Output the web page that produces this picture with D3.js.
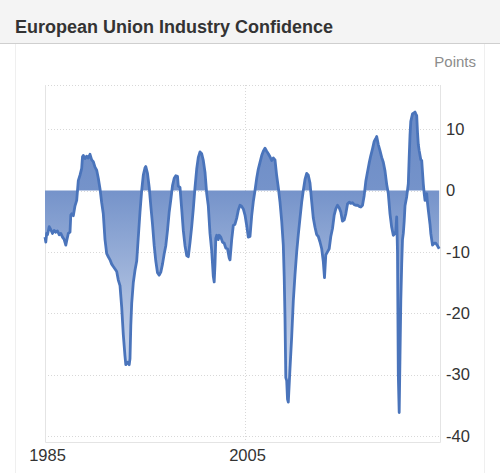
<!DOCTYPE html>
<html>
<head>
<meta charset="utf-8">
<script src="https://cdn.jsdelivr.net/npm/d3@7"></script>
<style>
  html, body { margin: 0; padding: 0; background: #fff; }
  svg { display: block; font-family: "Liberation Sans", Arial, Helvetica, sans-serif; }
</style>
</head>
<body>
<svg id="chart" width="500" height="473"></svg>
<script>
// ---- data ----
const title = "European Union Industry Confidence";
const unitLabel = "Points";
const yTicks = [10, 0, -10, -20, -30, -40];
const xTicks = [1985, 2005];

const dates = [
  1985.00,1985.08,1985.17,1985.25,1985.42,1985.58,1985.75,1985.92,
  1986.08,1986.25,1986.42,1986.58,1986.75,1986.92,
  1987.08,1987.17,1987.33,1987.50,1987.58,1987.67,1987.83,
  1988.00,1988.17,1988.33,1988.50,1988.67,1988.75,1988.83,
  1989.00,1989.17,1989.33,1989.50,1989.67,1989.83,
  1990.00,1990.17,1990.33,1990.50,1990.67,1990.83,
  1991.00,1991.17,1991.33,1991.50,1991.67,1991.83,
  1992.00,1992.17,1992.33,1992.50,1992.67,1992.83,
  1993.00,1993.08,1993.25,1993.42,1993.50,1993.58,1993.67,1993.83,
  1994.00,1994.17,1994.33,1994.50,1994.67,1994.83,
  1995.00,1995.08,1995.25,1995.42,1995.58,1995.75,1995.92,
  1996.08,1996.25,1996.42,1996.58,1996.75,1996.92,
  1997.08,1997.25,1997.42,1997.58,1997.75,1997.92,
  1998.08,1998.25,1998.33,1998.50,1998.67,1998.83,
  1999.00,1999.17,1999.33,1999.50,1999.67,1999.83,
  2000.00,2000.17,2000.33,2000.50,2000.67,2000.83,
  2001.00,2001.17,2001.33,2001.50,2001.67,2001.83,2001.92,
  2002.00,2002.08,2002.17,2002.33,2002.42,2002.58,2002.75,2002.92,
  2003.08,2003.25,2003.42,2003.50,2003.67,2003.83,
  2004.00,2004.17,2004.33,2004.50,2004.67,2004.83,
  2005.00,2005.17,2005.33,2005.50,2005.67,2005.83,
  2006.00,2006.17,2006.33,2006.50,2006.67,2006.83,
  2007.00,2007.17,2007.33,2007.50,2007.67,2007.83,
  2008.00,2008.17,2008.33,2008.50,2008.67,2008.83,2008.92,
  2009.00,2009.08,2009.17,2009.25,2009.33,2009.50,2009.67,2009.83,
  2010.00,2010.17,2010.33,2010.50,2010.67,2010.83,
  2011.00,2011.17,2011.33,2011.50,2011.67,2011.83,
  2012.00,2012.17,2012.33,2012.50,2012.67,2012.83,2012.95,
  2013.08,2013.25,2013.42,2013.58,2013.75,2013.92,
  2014.08,2014.25,2014.42,2014.58,2014.75,2014.92,
  2015.08,2015.25,2015.42,2015.58,2015.75,2015.92,
  2016.08,2016.25,2016.42,2016.58,2016.75,2016.92,
  2017.08,2017.25,2017.42,2017.58,2017.75,2017.92,
  2018.08,2018.17,2018.33,2018.50,2018.67,2018.83,
  2019.00,2019.17,2019.33,2019.50,2019.67,2019.83,
  2020.00,2020.08,2020.17,2020.25,2020.33,2020.42,2020.50,2020.58,2020.67,2020.75,2020.83,2020.92,
  2021.00,2021.17,2021.33,2021.42,2021.50,2021.58,2021.75,2021.92,
  2022.00,2022.08,2022.17,2022.25,2022.33,2022.42,2022.58,2022.67,2022.83,2022.92,
  2023.00,2023.08,2023.17,2023.25,2023.33,2023.50,2023.58,2023.75,2023.92,
  2024.08,2024.25,2024.42
];
const values = [
  -7.6,-8.4,-7.0,-7.2,-5.9,-6.4,-7.0,-6.5,
  -6.8,-6.6,-7.2,-7.0,-7.6,-8.0,
  -8.9,-8.2,-7.0,-6.8,-4.0,-3.8,-4.1,
  -2.5,-1.6,1.6,2.5,3.6,5.5,5.7,
  5.2,5.6,5.3,5.9,5.0,4.7,
  3.8,3.3,2.0,0.3,-2.0,-3.8,
  -8.0,-10.3,-10.8,-11.3,-12.0,-12.4,
  -12.8,-13.2,-14.6,-15.5,-19.0,-23.5,
  -27.0,-28.4,-28.0,-28.4,-27.4,-22.0,-18.4,-15.0,
  -13.0,-11.5,-7.6,-3.5,0.0,2.5,
  3.7,3.9,2.8,0.5,-2.5,-5.5,-9.0,
  -11.5,-13.4,-13.8,-13.3,-12.0,-10.3,
  -9.0,-6.5,-3.5,-1.5,0.8,2.0,
  2.4,2.3,0.7,0.5,-3.0,-6.5,
  -9.0,-10.6,-10.8,-8.5,-5.9,-3.0,
  0.5,3.5,5.4,6.3,6.0,4.9,
  3.0,-0.5,-2.5,-7.0,-9.8,-14.0,-14.9,
  -12.0,-7.8,-7.3,-8.0,-7.3,-7.6,-8.4,-8.6,
  -9.4,-9.5,-11.0,-11.3,-8.0,-5.7,
  -5.5,-4.5,-3.2,-2.4,-2.6,-3.0,
  -4.0,-5.7,-7.6,-7.5,-4.1,-1.8,
  0.0,2.0,3.5,4.6,5.7,6.4,
  6.9,6.4,6.0,5.5,4.9,5.3,
  5.0,2.4,0.5,-1.9,-5.0,-8.9,-14.0,
  -20.8,-30.5,-31.0,-34.0,-34.5,-29.0,-23.8,-18.0,
  -13.7,-10.0,-7.2,-4.5,-1.9,0.0,
  1.8,2.8,2.5,1.2,-1.8,-4.5,
  -6.0,-7.2,-7.5,-8.4,-9.5,-11.6,-14.2,
  -10.5,-10.0,-9.5,-7.5,-6.2,-4.0,
  -3.0,-2.4,-2.8,-3.5,-5.0,-4.8,
  -3.8,-2.2,-1.9,-2.1,-2.0,-2.3,
  -2.4,-2.4,-2.6,-2.7,-2.4,-0.8,
  1.5,3.0,4.5,5.7,6.8,8.0,
  8.5,8.8,7.5,6.5,5.4,4.6,
  3.2,1.0,-0.5,-3.8,-6.0,-7.3,
  -7.0,-6.6,-4.3,-10.0,-30.0,-36.2,-27.0,-18.0,-12.0,-8.0,-7.0,-5.0,
  -2.5,-1.0,1.1,5.5,9.0,11.3,12.5,12.7,
  12.8,12.5,12.2,9.5,7.5,6.5,5.0,4.9,1.1,-0.5,
  -1.6,-1.5,-0.5,-2.0,-3.2,-5.5,-7.0,-8.9,-8.6,
  -8.6,-9.0,-9.5
];

// ---- drawing ----
const svg = d3.select("#chart");
const W = 500, H = 473;
const plot = { left: 45, right: 440, top: 85, bottom: 442 };

const x = d3.scaleLinear().domain([1985, 2024.5]).range([plot.left, plot.right]);
const y = d3.scaleLinear().domain([-41, 17.2]).range([plot.bottom, plot.top]);

// title bar
svg.append("rect").attr("x", 0).attr("y", 0).attr("width", W).attr("height", 43)
  .attr("fill", "#f4f4f4");
svg.append("line").attr("x1", 0).attr("x2", W).attr("y1", 43.5).attr("y2", 43.5)
  .attr("stroke", "#cfcfcf").attr("stroke-width", 1);
svg.append("text").attr("x", 15).attr("y", 32.5)
  .attr("font-size", 18).attr("font-weight", "bold").attr("fill", "#333")
  .text(title);

// card edges
[15.5, 484.5].forEach(cx => {
  svg.append("line").attr("x1", cx).attr("x2", cx).attr("y1", 44).attr("y2", H)
    .attr("stroke", "#efefef").attr("stroke-width", 1);
});

svg.append("text").attr("x", 476).attr("y", 67).attr("text-anchor", "end")
  .attr("font-size", 15).attr("fill", "#8c8c8c").text(unitLabel);

// gridlines
const grid = svg.append("g");
grid.selectAll("line.h").data(yTicks.concat([17.2])).join("line")
  .attr("x1", plot.left).attr("x2", plot.right)
  .attr("y1", d => Math.round(y(d)) + 0.5).attr("y2", d => Math.round(y(d)) + 0.5)
  .attr("stroke", "#d8d8d8").attr("stroke-dasharray", "1,2");
grid.selectAll("line.v").data([2005]).join("line")
  .attr("x1", d => Math.round(x(d)) + 0.5).attr("x2", d => Math.round(x(d)) + 0.5)
  .attr("y1", plot.top).attr("y2", plot.bottom)
  .attr("stroke", "#d8d8d8").attr("stroke-dasharray", "1,2");
// frame
svg.append("path")
  .attr("d", `M${plot.left + 0.5},${plot.top}V${plot.bottom + 0.5}H${plot.right + 0.5}V${plot.top}`)
  .attr("fill", "none").attr("stroke", "#e4e4e4").attr("stroke-width", 1);

// gradient
const defs = svg.append("defs");
const grad = defs.append("linearGradient").attr("id", "fillGrad")
  .attr("gradientUnits", "userSpaceOnUse")
  .attr("x1", 0).attr("x2", 0).attr("y1", plot.top).attr("y2", y(-40));
grad.append("stop").attr("offset", "0%").attr("stop-color", "#6788c4");
grad.append("stop").attr("offset", "30%").attr("stop-color", "#7593ca");
grad.append("stop").attr("offset", "100%").attr("stop-color", "#eef2f9");

const data = dates.map((d, i) => ({ t: d, v: values[i] }));

const area = d3.area()
  .x(d => x(d.t)).y0(y(0)).y1(d => y(d.v));
const line = d3.line()
  .x(d => x(d.t)).y(d => y(d.v));

svg.append("path").datum(data).attr("d", area).attr("fill", "url(#fillGrad)");
svg.append("path").datum(data).attr("d", line)
  .attr("fill", "none").attr("stroke", "#4a74bb").attr("stroke-width", 2.8)
  .attr("stroke-linejoin", "round");

// y axis (right)
const yAxis = svg.append("g").attr("transform", `translate(${plot.right + 6},0)`)
  .call(d3.axisRight(y).tickValues(yTicks).tickSize(0).tickPadding(0)
    .tickFormat(d => String(d)));
yAxis.select(".domain").remove();
yAxis.selectAll("text").attr("font-size", 16.5).attr("fill", "#333")
  .attr("font-family", "Liberation Sans, Arial, sans-serif");

// x axis
const xAxis = svg.append("g").attr("transform", `translate(0,${plot.bottom})`)
  .call(d3.axisBottom(x).tickValues(xTicks).tickSize(0).tickPadding(7)
    .tickFormat(d3.format("d")));
xAxis.select(".domain").remove();
xAxis.selectAll("text").attr("font-size", 16.5).attr("fill", "#333")
  .attr("font-family", "Liberation Sans, Arial, sans-serif")
  .attr("dx", 2);
</script>
</body>
</html>
